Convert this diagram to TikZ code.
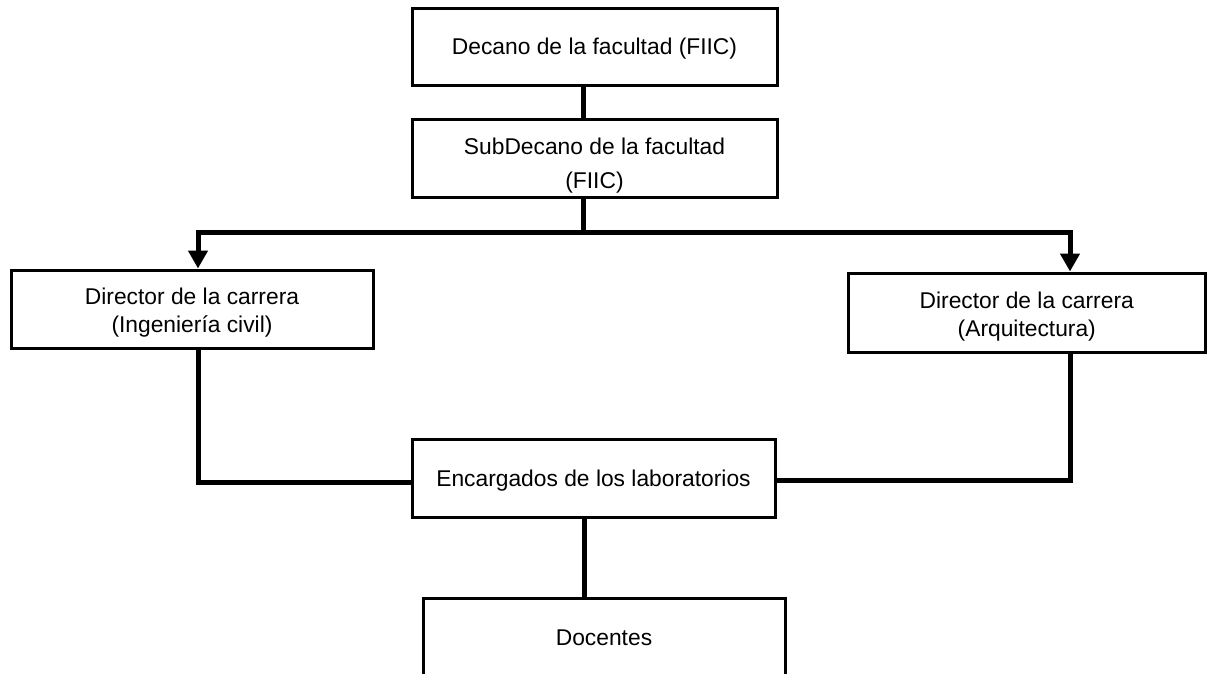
\documentclass[tikz,border=0pt]{standalone}
\usepackage{fontspec}
\setmainfont{Liberation Sans}
\usetikzlibrary{arrows.meta}
\begin{document}
\begin{tikzpicture}[x=1pt,y=-1pt,
  box/.style={draw=black,line width=3pt,fill=white,inner sep=0pt},
  txt/.style={inner sep=0pt,align=center,font=\fontsize{22.8}{28}\selectfont},
  conn/.style={line width=5pt,black},
  arr/.style={-{Triangle[width=19pt,length=18pt]}}]
\useasboundingbox (0,0) rectangle (1208,673);
\node[box,minimum width=365pt,minimum height=77pt,
  label={[txt,yshift=-2pt]center:Decano de la facultad (FIIC)}] (top) at (594.5,47) {};
\node[box,minimum width=365pt,minimum height=78pt,
  label={[txt,font=\fontsize{22.8}{34}\selectfont,yshift=-7pt]center:{SubDecano de la facultad\\(FIIC)}}] (sub) at (594.5,158.5) {};
\node[box,minimum width=362pt,minimum height=78pt,
  label={[txt,yshift=-4pt]center:{Director de la carrera\\(Ingeniería civil)}}] (ldir) at (192,309) {};
\node[box,minimum width=357.5pt,minimum height=79pt,
  label={[txt,yshift=-4pt]center:{Director de la carrera\\(Arquitectura)}}] (rdir) at (1026.75,312.5) {};
\node[box,minimum width=363pt,minimum height=78pt,
  label={[txt,yshift=-3pt]center:Encargados de los laboratorios}] (enc) at (593.5,478) {};
\node[box,minimum width=362pt,minimum height=80pt,
  label={[txt]center:Docentes}] (doc) at (604,638) {};
\coordinate (c1) at (583,0);
\coordinate (c2) at (584,0);
\coordinate (xl) at (198,0);
\coordinate (xr) at (1070,0);
\coordinate (j) at (583,232);
\draw[conn] (top.south -| c1) -- (sub.north -| c1);
\draw[conn] (sub.south -| c1) -- (j);
\draw[conn,arr] (j) -| (ldir.north -| xl);
\draw[conn,arr] (j) -| (rdir.north -| xr);
\draw[conn] (ldir.south -| xl) |- ([yshift=-4pt]enc.west);
\draw[conn] (rdir.south -| xr) |- ([yshift=-2pt]enc.east);
\draw[conn] (enc.south -| c2) -- (doc.north -| c2);
\end{tikzpicture}
\end{document}
